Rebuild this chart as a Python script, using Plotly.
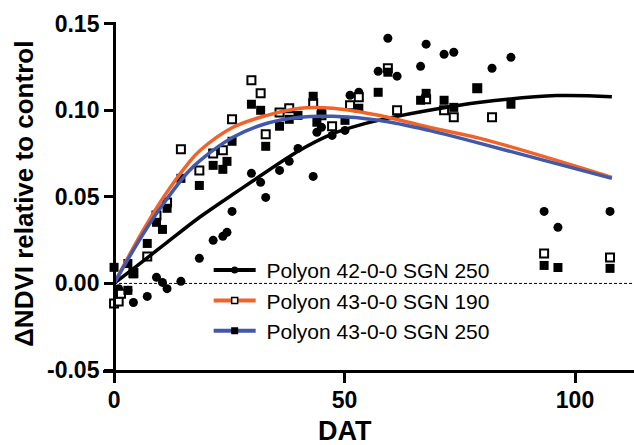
import plotly.graph_objects as go

# ---- data ----
# Polyon 42-0-0 SGN 250 (filled circles)
days_a = [1, 3, 4.2, 7.2, 9.2, 10.5, 11.5, 14.5, 18.5, 21.5, 23.6, 24.5, 25.6, 29.8, 31.8, 32.9,
          35.9, 38, 39.9, 43.2, 44, 45, 47.3, 50.1, 51.2, 53.1, 57.3, 59.4, 61.4, 66.5, 67.7,
          71.6, 73.7, 82, 86.1, 93.3, 96.3, 107.6]
vals_a = [-0.003, -0.004, -0.011, -0.0075, 0.0035, 0.0006, -0.003, 0.0012, 0.0145, 0.0249, 0.0272,
          0.0295, 0.0416, 0.0636, 0.0584, 0.0497, 0.0653, 0.0705, 0.078, 0.0618, 0.0873, 0.0902,
          0.0855, 0.0884, 0.1087, 0.1104, 0.1225, 0.1416, 0.1197, 0.1254, 0.1382, 0.1324, 0.1335,
          0.1243, 0.1306, 0.0416, 0.0324, 0.0416]

# Polyon 43-0-0 SGN 190 (open squares)
days_b = [0, 1, 1.5, 4.2, 7.2, 9.2, 11.5, 14.5, 18.5, 21.5, 23.6, 25.6, 29.8, 31.8, 32.9, 35.9,
          38, 43.2, 45, 47.3, 51.2, 53.1, 59.4, 61.4, 67.7, 71.6, 73.7, 78.8, 82, 93.3, 107.6]
vals_b = [-0.0116, -0.0104, -0.006, 0.006, 0.0156, 0.0393, 0.0468, 0.0775, 0.0653, 0.0751, 0.0769,
          0.0948, 0.1173, 0.1098, 0.0861, 0.0988, 0.1012, 0.104, 0.0971, 0.0908, 0.1029, 0.1075,
          0.1243, 0.1, 0.1064, 0.1, 0.096, 0.1127, 0.096, 0.0173, 0.015]

# Polyon 43-0-0 SGN 250 (filled squares)
days_c = [0, 3, 3, 4.2, 7.2, 9.2, 10.5, 11.5, 14.5, 18.5, 21.5, 23.6, 24.5, 25.6, 29.8, 31.8, 32.9,
          35.9, 38, 39.9, 43.2, 44, 45, 50.1, 53.1, 57.3, 59.4, 66.5, 67.7, 71.6, 73.7, 78.8, 86.1,
          93.3, 96.3, 107.6]
vals_c = [0.0093, 0.0115, -0.004, 0.0055, 0.0231, 0.0353, 0.0312, 0.0434, 0.0607, 0.0566, 0.0682,
          0.0659, 0.0705, 0.0821, 0.1035, 0.1, 0.0792, 0.0908, 0.0948, 0.0971, 0.1081, 0.0931,
          0.0988, 0.0942, 0.1012, 0.1104, 0.122, 0.1058, 0.1098, 0.1058, 0.1017, 0.1127, 0.1035,
          0.0104, 0.0092, 0.0087]

# fitted curves, read at sample days
fit_x_a = [0, 4.2, 11.5, 18.7, 25.8, 30, 40, 47, 54, 61.4, 73.5, 79, 96, 108]
fit_a = [0, 0.0085, 0.0237, 0.0385, 0.0515, 0.059, 0.0765, 0.086, 0.092, 0.0965, 0.1023, 0.1045,
         0.1085, 0.1078]

fit_x_bc = [0, 6.3, 10.7, 16.1, 18.7, 25.8, 33.2, 40.3, 47.5, 57.4, 68.3, 79.4, 108]
fit_b = [0, 0.0306, 0.0497, 0.0694, 0.0769, 0.0902, 0.0971, 0.1012, 0.1012, 0.0971, 0.0902, 0.0838, 0.0613]
fit_c = [0, 0.0285, 0.046, 0.0645, 0.0711, 0.0844, 0.0925, 0.096, 0.0965, 0.0942, 0.0884, 0.0809, 0.0607]

names = ["Polyon 42-0-0 SGN 250", "Polyon 43-0-0 SGN 190", "Polyon 43-0-0 SGN 250"]
colors = ["#000000", "#F0642A", "#4159A8"]

y_tickvals = [-0.05, 0, 0.05, 0.10, 0.15]
y_ticktext = ["-0.05", "0.00", "0.05", "0.10", "0.15"]
x_tickvals = [0, 50, 100]

FONT = "Arial, Liberation Sans, sans-serif"
X_MIN, X_MAX = -2.4, 112.8
Y_MIN, Y_MAX = -0.05, 0.151

fig = go.Figure()

# zero reference line
fig.add_shape(type="line", xref="x", yref="y", x0=0, x1=X_MAX, y0=0, y1=0,
              line=dict(color="black", width=1, dash="3px,2px"), layer="below")

# scatter points
fig.add_trace(go.Scatter(x=days_a, y=vals_a, mode="markers", showlegend=False,
                         marker=dict(symbol="circle", size=9, color="black", line=dict(width=0))))
fig.add_trace(go.Scatter(x=days_b, y=vals_b, mode="markers", showlegend=False,
                         marker=dict(symbol="square", size=8, color="white",
                                     line=dict(width=2, color="black"))))
fig.add_trace(go.Scatter(x=days_c, y=vals_c, mode="markers", showlegend=False,
                         marker=dict(symbol="square", size=9, color="black", line=dict(width=0))))

# fitted curves
fig.add_trace(go.Scatter(x=fit_x_a, y=fit_a, mode="lines", showlegend=False,
                         line=dict(color=colors[0], width=3.5, shape="spline")))
fig.add_trace(go.Scatter(x=fit_x_bc, y=fit_b, mode="lines", showlegend=False,
                         line=dict(color=colors[1], width=3.5, shape="spline")))
fig.add_trace(go.Scatter(x=fit_x_bc, y=fit_c, mode="lines", showlegend=False,
                         line=dict(color=colors[2], width=3.5, shape="spline")))

# legend entries
leg_markers = [dict(symbol="circle", size=7, color="black"),
               dict(symbol="square", size=6, color="white", line=dict(width=1.5, color="black")),
               dict(symbol="square", size=7, color="black")]
for nm, col, mk in zip(names, colors, leg_markers):
    fig.add_trace(go.Scatter(x=[None], y=[None], mode="lines+markers", name="\u2008" + nm,
                             line=dict(color=col, width=4), marker=mk))

fig.update_layout(
    width=634, height=445,
    margin=dict(l=103, r=0, t=22, b=75),
    plot_bgcolor="white", paper_bgcolor="white",
    font=dict(family=FONT, color="black"),
    showlegend=True,
    legend=dict(x=0.199, y=0.345, xanchor="left", yanchor="top",
                bgcolor="rgba(0,0,0,0)", itemwidth=42,
                font=dict(family=FONT, size=21, color="black"),
                tracegroupgap=0),
    xaxis=dict(range=[X_MIN, X_MAX], tickvals=x_tickvals, showgrid=False, zeroline=False,
               showline=True, linecolor="black", linewidth=3,
               ticks="outside", ticklen=10, tickwidth=3, tickcolor="black",
               ticklabelstandoff=-3,
               tickfont=dict(family=FONT, size=23, color="black", weight="bold")),
    yaxis=dict(range=[Y_MIN, Y_MAX], tickvals=y_tickvals, ticktext=y_ticktext,
               showgrid=False, zeroline=False, anchor="free",
               position=(0 - X_MIN) / (X_MAX - X_MIN),
               showline=True, linecolor="black", linewidth=3,
               ticks="outside", ticklen=9, tickwidth=3, tickcolor="black",
               tickfont=dict(family=FONT, size=23, color="black", weight="bold")),
)

fig.add_annotation(text="<b>DAT</b>", xref="x", yref="paper", x=50, y=-0.125,
                   xanchor="center", yanchor="top", showarrow=False,
                   font=dict(family=FONT, size=27, color="black"))
fig.add_annotation(text="<b>ΔNDVI relative to control</b>", xref="paper", yref="y",
                   x=-0.18, y=0.052, xanchor="left", yanchor="middle", textangle=-90,
                   showarrow=False, font=dict(family=FONT, size=26, color="black"))

fig.write_html("out.html")
